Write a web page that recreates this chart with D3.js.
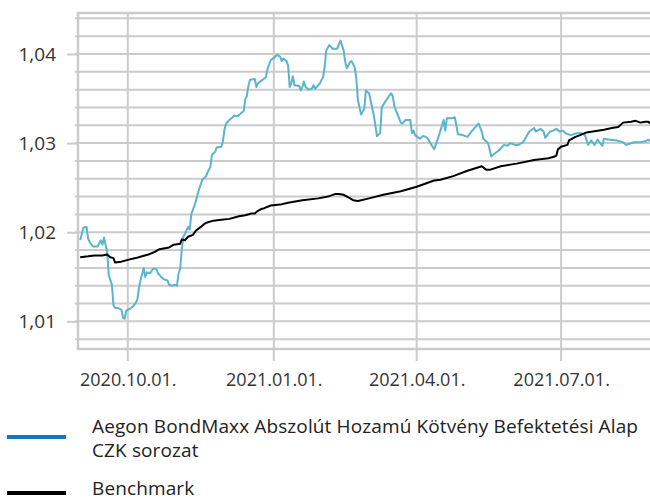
<!DOCTYPE html>
<html>
<head>
<meta charset="utf-8">
<script src="https://cdn.jsdelivr.net/npm/d3@7"></script>
<style>
  body { margin: 0; background: #fff; }
  svg { display: block; }
</style>
</head>
<body>
<div id="chart"></div>
<script>
// Chart data
const fundName = "Aegon BondMaxx Abszolút Hozamú Kötvény Befektetési Alap";
const fundName2 = "CZK sorozat";
const benchName = "Benchmark";

const quarterTicks = ["2020-10-01", "2021-01-01", "2021-04-01", "2021-07-01"];
const yTicks = [1.01, 1.02, 1.03, 1.04];

const fund = [
  ["2020-09-01",1.0191],["2020-09-03",1.0205],["2020-09-05",1.0206],["2020-09-06",1.0193],
  ["2020-09-07",1.0189],["2020-09-09",1.0184],["2020-09-12",1.0184],["2020-09-14",1.0191],
  ["2020-09-15",1.0186],["2020-09-16",1.0194],["2020-09-17",1.0186],["2020-09-18",1.0178],
  ["2020-09-19",1.0152],["2020-09-21",1.0141],["2020-09-22",1.0118],["2020-09-23",1.0115],
  ["2020-09-25",1.0115],["2020-09-27",1.0113],["2020-09-28",1.0104],["2020-09-29",1.0103],
  ["2020-09-30",1.0112],["2020-10-01",1.0113],["2020-10-03",1.0115],["2020-10-05",1.0118],
  ["2020-10-07",1.0124],["2020-10-08",1.0137],["2020-10-09",1.0146],["2020-10-11",1.0160],
  ["2020-10-12",1.0150],["2020-10-13",1.0155],["2020-10-15",1.0154],["2020-10-17",1.0159],
  ["2020-10-19",1.0159],["2020-10-20",1.0154],["2020-10-22",1.0150],["2020-10-24",1.0147],
  ["2020-10-26",1.0146],["2020-10-27",1.0141],["2020-10-29",1.0140],["2020-10-31",1.0141],
  ["2020-11-01",1.0140],["2020-11-02",1.0154],["2020-11-03",1.0159],["2020-11-04",1.0180],
  ["2020-11-05",1.0195],["2020-11-06",1.0198],["2020-11-08",1.0206],["2020-11-09",1.0203],
  ["2020-11-10",1.0220],["2020-11-12",1.0230],["2020-11-13",1.0236],["2020-11-15",1.0249],
  ["2020-11-17",1.0259],["2020-11-19",1.0262],["2020-11-21",1.0270],["2020-11-22",1.0273],
  ["2020-11-23",1.0287],["2020-11-25",1.0290],["2020-11-26",1.0295],["2020-11-29",1.0296],
  ["2020-11-30",1.0303],["2020-12-01",1.0316],["2020-12-02",1.0322],["2020-12-03",1.0324],
  ["2020-12-04",1.0326],["2020-12-06",1.0329],["2020-12-07",1.0331],["2020-12-09",1.0330],
  ["2020-12-11",1.0333],["2020-12-13",1.0336],["2020-12-14",1.0349],["2020-12-15",1.0353],
  ["2020-12-16",1.0364],["2020-12-17",1.0371],["2020-12-20",1.0372],["2020-12-21",1.0363],
  ["2020-12-22",1.0367],["2020-12-27",1.0374],["2020-12-28",1.0383],["2020-12-30",1.0393],
  ["2021-01-02",1.0397],["2021-01-03",1.0399],["2021-01-05",1.0397],["2021-01-06",1.0392],
  ["2021-01-07",1.0395],["2021-01-09",1.0392],["2021-01-10",1.0387],["2021-01-11",1.0363],
  ["2021-01-12",1.0367],["2021-01-13",1.0375],["2021-01-14",1.0365],["2021-01-17",1.0364],
  ["2021-01-18",1.0359],["2021-01-19",1.0363],["2021-01-20",1.0369],["2021-01-21",1.0363],
  ["2021-01-23",1.0360],["2021-01-25",1.0361],["2021-01-26",1.0365],["2021-01-27",1.0361],
  ["2021-01-30",1.0367],["2021-02-01",1.0374],["2021-02-02",1.0385],["2021-02-03",1.0404],
  ["2021-02-05",1.0410],["2021-02-07",1.0406],["2021-02-10",1.0406],["2021-02-11",1.0411],
  ["2021-02-12",1.0415],["2021-02-14",1.0404],["2021-02-15",1.0391],["2021-02-16",1.0384],
  ["2021-02-18",1.0391],["2021-02-19",1.0392],["2021-02-21",1.0385],["2021-02-22",1.0372],
  ["2021-02-23",1.0348],["2021-02-25",1.0332],["2021-02-27",1.0339],["2021-02-28",1.0359],
  ["2021-03-02",1.0356],["2021-03-05",1.0331],["2021-03-07",1.0308],["2021-03-09",1.0311],
  ["2021-03-10",1.0340],["2021-03-12",1.0346],["2021-03-15",1.0354],["2021-03-16",1.0356],
  ["2021-03-17",1.0352],["2021-03-18",1.0341],["2021-03-22",1.0323],["2021-03-23",1.0322],
  ["2021-03-25",1.0326],["2021-03-28",1.0326],["2021-03-29",1.0311],["2021-03-30",1.0314],
  ["2021-03-31",1.0309],["2021-04-03",1.0305],["2021-04-05",1.0308],["2021-04-07",1.0307],
  ["2021-04-08",1.0305],["2021-04-12",1.0293],["2021-04-14",1.0303],["2021-04-16",1.0314],
  ["2021-04-18",1.0326],["2021-04-19",1.0314],["2021-04-20",1.0328],["2021-04-23",1.0328],
  ["2021-04-25",1.0329],["2021-04-27",1.0310],["2021-04-30",1.0309],["2021-05-03",1.0307],
  ["2021-05-06",1.0314],["2021-05-10",1.0322],["2021-05-12",1.0313],["2021-05-13",1.0305],
  ["2021-05-16",1.0300],["2021-05-18",1.0285],["2021-05-20",1.0288],["2021-05-23",1.0292],
  ["2021-05-26",1.0298],["2021-05-28",1.0297],["2021-05-30",1.0300],["2021-06-02",1.0298],
  ["2021-06-04",1.0298],["2021-06-07",1.0301],["2021-06-11",1.0313],["2021-06-14",1.0317],
  ["2021-06-15",1.0313],["2021-06-18",1.0316],["2021-06-20",1.0313],["2021-06-21",1.0306],
  ["2021-06-24",1.0313],["2021-06-26",1.0314],["2021-06-28",1.0316],["2021-06-30",1.0313],
  ["2021-07-02",1.0314],["2021-07-04",1.0311],["2021-07-07",1.0309],["2021-07-11",1.0311],
  ["2021-07-14",1.0311],["2021-07-16",1.0309],["2021-07-18",1.0298],["2021-07-20",1.0303],
  ["2021-07-22",1.0298],["2021-07-24",1.0304],["2021-07-27",1.0297],["2021-07-28",1.0305],
  ["2021-07-31",1.0304],["2021-08-05",1.0303],["2021-08-09",1.0301],["2021-08-11",1.0298],
  ["2021-08-16",1.0301],["2021-08-20",1.0301],["2021-08-23",1.0302],["2021-08-25",1.0304],
  ["2021-08-26",1.0302]
];

const bench = [
  ["2020-09-01",1.0172],["2020-09-06",1.0173],["2020-09-10",1.0174],["2020-09-15",1.0174],
  ["2020-09-18",1.0175],["2020-09-20",1.0172],["2020-09-22",1.0171],["2020-09-23",1.0166],
  ["2020-09-27",1.0167],["2020-10-01",1.0169],["2020-10-06",1.0171],["2020-10-10",1.0173],
  ["2020-10-14",1.0175],["2020-10-18",1.0178],["2020-10-21",1.0181],["2020-10-27",1.0183],
  ["2020-10-30",1.0186],["2020-11-03",1.0187],["2020-11-04",1.0192],["2020-11-06",1.0191],
  ["2020-11-08",1.0195],["2020-11-11",1.0197],["2020-11-13",1.0202],["2020-11-16",1.0206],
  ["2020-11-18",1.0209],["2020-11-20",1.0211],["2020-11-24",1.0213],["2020-11-29",1.0214],
  ["2020-12-04",1.0215],["2020-12-10",1.0218],["2020-12-14",1.0219],["2020-12-18",1.0221],
  ["2020-12-20",1.0221],["2020-12-22",1.0224],["2020-12-24",1.0226],["2020-12-26",1.0227],
  ["2020-12-30",1.0230],["2021-01-05",1.0231],["2021-01-10",1.0233],["2021-01-19",1.0236],
  ["2021-01-29",1.0238],["2021-02-04",1.0240],["2021-02-09",1.0243],["2021-02-11",1.0243],
  ["2021-02-14",1.0242],["2021-02-17",1.0239],["2021-02-20",1.0236],["2021-02-23",1.0235],
  ["2021-03-02",1.0238],["2021-03-11",1.0242],["2021-03-22",1.0246],["2021-04-01",1.0251],
  ["2021-04-12",1.0258],["2021-04-16",1.0259],["2021-04-24",1.0263],["2021-05-03",1.0269],
  ["2021-05-12",1.0274],["2021-05-15",1.0270],["2021-05-17",1.0270],["2021-05-24",1.0274],
  ["2021-06-03",1.0277],["2021-06-14",1.0281],["2021-06-23",1.0283],["2021-06-27",1.0285],
  ["2021-06-28",1.0286],["2021-06-29",1.0293],["2021-07-01",1.0296],["2021-07-05",1.0298],
  ["2021-07-06",1.0303],["2021-07-10",1.0307],["2021-07-13",1.0309],["2021-07-17",1.0312],
  ["2021-07-21",1.0313],["2021-07-28",1.0315],["2021-08-02",1.0317],["2021-08-06",1.0318],
  ["2021-08-09",1.0323],["2021-08-14",1.0324],["2021-08-17",1.0325],["2021-08-20",1.0323],
  ["2021-08-23",1.0324],["2021-08-25",1.0324],["2021-08-26",1.0322]
];

const parse = d3.timeParse("%Y-%m-%d");
const fmtX = d3.timeFormat("%Y.%m.%d.");
const fmtY = d => d.toFixed(2).replace(".", ",");

const W = 650, H = 500;
const plot = {left: 78, right: 650, top: 13, bottom: 349};

const svg = d3.select("#chart").append("svg")
  .attr("width", W)
  .attr("height", H);

const x = d3.scaleTime()
  .domain([parse("2020-08-30"), parse("2021-08-26")])
  .range([plot.left - 1, plot.right]);

const y = d3.scaleLinear()
  .domain([1.0069, 1.0446])
  .range([plot.bottom, plot.top]);

const gridColor = "#cbcbcb";

// horizontal grid every 0.002
const minor = d3.range(504, 523).map(i => +(i * 0.002).toFixed(3));
svg.append("g")
  .selectAll("line")
  .data(minor)
  .enter().append("line")
  .attr("x1", plot.left - 3)
  .attr("x2", plot.right)
  .attr("y1", d => y(d))
  .attr("y2", d => y(d))
  .attr("stroke", gridColor)
  .attr("stroke-width", 2);

// vertical grid at quarters
svg.append("g")
  .selectAll("line")
  .data(quarterTicks.map(parse))
  .enter().append("line")
  .attr("x1", d => x(d))
  .attr("x2", d => x(d))
  .attr("y1", plot.top)
  .attr("y2", plot.bottom + 12)
  .attr("stroke", gridColor)
  .attr("stroke-width", 2);

// frame: top, left, bottom
svg.append("path")
  .attr("d", `M${plot.right},${plot.top}H${plot.left}V${plot.bottom}H${plot.right}`)
  .attr("fill", "none")
  .attr("stroke", gridColor)
  .attr("stroke-width", 2.5);

// y axis: major ticks and labels
const yAxis = d3.axisLeft(y)
  .tickValues(yTicks)
  .tickSize(11)
  .tickPadding(11)
  .tickFormat(fmtY);

const gy = svg.append("g")
  .attr("transform", `translate(${plot.left},0)`)
  .call(yAxis);
gy.select(".domain").remove();
gy.selectAll(".tick line").attr("stroke", gridColor).attr("stroke-width", 2);
gy.selectAll(".tick text")
  .attr("fill", "#333")
  .style("font-family", "'Open Sans', sans-serif")
  .style("font-size", "19px");

// x axis labels
const xAxis = d3.axisBottom(x)
  .tickValues(quarterTicks.map(parse))
  .tickSize(0)
  .tickPadding(24)
  .tickFormat(fmtX);

const gx = svg.append("g")
  .attr("transform", `translate(0,${plot.bottom})`)
  .call(xAxis);
gx.select(".domain").remove();
gx.selectAll(".tick text")
  .attr("fill", "#333")
  .style("font-family", "'Open Sans', sans-serif")
  .style("font-size", "18px");

// lines
const line = d3.line()
  .x(d => x(parse(d[0])))
  .y(d => y(d[1]));

svg.append("path")
  .datum(fund)
  .attr("d", line)
  .attr("fill", "none")
  .attr("stroke", "#5bb4cd")
  .attr("stroke-width", 2)
  .attr("stroke-linejoin", "round");

svg.append("path")
  .datum(bench)
  .attr("d", line)
  .attr("fill", "none")
  .attr("stroke", "#000")
  .attr("stroke-width", 2)
  .attr("stroke-linejoin", "round");

// legend
const legend = svg.append("g")
  .style("font-family", "'Open Sans', sans-serif")
  .style("font-size", "19px")
  .style("letter-spacing", "0.12px")
  .attr("fill", "#222");

const items = [
  {color: "#1b75bb", y: 437},
  {color: "#000", y: 493}
];

items.forEach(function(it) {
  legend.append("line")
    .attr("x1", 7).attr("x2", 66)
    .attr("y1", it.y).attr("y2", it.y)
    .attr("stroke", it.color)
    .attr("stroke-width", 4);
});

legend.append("text").attr("x", 92).attr("y", 433).text(fundName);
legend.append("text").attr("x", 92).attr("y", 457).text(fundName2);
legend.append("text").attr("x", 92).attr("y", 495).text(benchName);
</script>
</body>
</html>
